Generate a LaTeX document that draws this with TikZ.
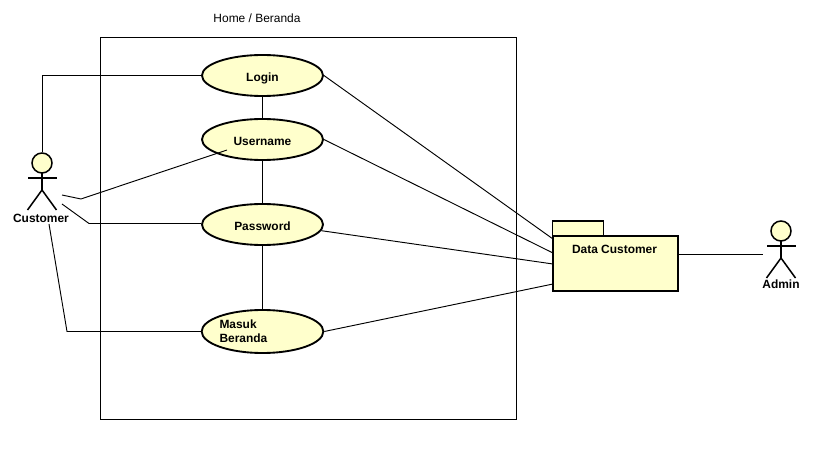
\documentclass[tikz,border=0pt]{standalone}
\usepackage{fontspec}
\setmainfont{Liberation Sans}
\usetikzlibrary{shapes.geometric}

\definecolor{umlfill}{HTML}{FFFFCC}

\tikzset{
	usecase/.style={shape=ellipse,draw=black,fill=umlfill,line width=1.6pt,inner sep=0pt,minimum width=3.63cm,minimum height=1.23cm,font=\fontsize{10.2pt}{12pt}\selectfont\bfseries},
	oneline/.style={usecase,text height=9.9pt,text depth=0pt},
	head/.style={shape=circle,draw=black,fill=umlfill,line width=1.3pt,inner sep=0pt,minimum size=0.6cm},
	limb/.style={line width=1.3pt},
	rolename/.style={font=\fontsize{10.2pt}{12pt}\selectfont\bfseries,inner sep=0pt},
	package/.style={shape=rectangle,draw=black,fill=umlfill,line width=1.6pt,inner sep=0pt},
	conn/.style={line width=0.8pt}
}

% body of an actor, below its head
\newcommand{\actorbody}[2]{
	\draw[limb] (#1,#2+15) -- +(-14.5,0) (#1,#2+15) -- +(14.5,0);
	\draw[limb] (#1,#2+10) -- (#1,#2+27) -- (#1-14.5,#2+47);
	\draw[limb] (#1,#2+27) -- (#1+14.5,#2+47);
}

\begin{document}
\begin{tikzpicture}[x=0.03cm,y=-0.03cm]

	\useasboundingbox (0,0) rectangle (838,457);

	\node[draw=black,line width=0.8pt,inner sep=0pt,minimum width=12.465cm,minimum height=11.46cm] (home) at (308.25,228) {};
	\node[font=\fontsize{10.2pt}{12pt}\selectfont,inner sep=0pt] (hometitle) at (257,18) {Home / Beranda};

	\node[oneline] (login) at (262.5,75.5) {Login};
	\node[oneline] (username) at (262.5,139.5) {Username};
	\node[oneline] (password) at (262.5,224.5) {Password};
	\node[usecase,text width=2.58cm,align=left,minimum height=1.29cm] (masuk) at (262.5,331.5) {Masuk\\Beranda};

	\node[head] (customer) at (42,163) {};
	\actorbody{42}{163}
	\node[rolename] (customername) at (41,218) {Customer};

	\node[head] (admin) at (781,231) {};
	\actorbody{781}{231}
	\node[rolename] (adminname) at (781,284) {Admin};

	\node[package,minimum width=1.53cm,minimum height=0.6cm] (tab) at (578,231) {};
	\node[package,minimum width=3.75cm,minimum height=1.65cm] (data) at (615.5,263.5) {};
	\node[rolename] (dataname) at (614.5,249) {Data Customer};

	\coordinate (bendusername) at (81,199);
	\coordinate (bendpassword) at (89,223.5);
	\coordinate (bendmasuk) at (67,331.5);
	\coordinate (fromusername) at (62,195);
	\coordinate (frompassword) at (62,204);
	\coordinate (frommasuk) at (49,224);
	\coordinate (tousername) at (227,150);
	\coordinate (todata1) at (553,239);
	\coordinate (todata2) at (553,253);
	\coordinate (todata3) at (553,264);
	\coordinate (todata4) at (553,284);
	\coordinate (toadmin) at (763,254.5);

	\draw[conn] (customer.north) |- (login.west);
	\draw[conn] (fromusername) -- (bendusername) -- (tousername);
	\draw[conn] (frompassword) -- (bendpassword) -- (password.west |- bendpassword);
	\draw[conn] (frommasuk) -- (bendmasuk) -- (masuk.west |- bendmasuk);

	\path[conn] (login) edge (username);
	\path[conn] (username) edge (password);
	\path[conn] (password) edge (masuk);

	\path[conn] (login.east) edge (todata1);
	\path[conn] (username.east) edge (todata2);
	\path[conn] (password.-6) edge (todata3);
	\path[conn] (masuk.east) edge (todata4);
	\path[conn] (data.east |- toadmin) edge (toadmin);

\end{tikzpicture}
\end{document}
